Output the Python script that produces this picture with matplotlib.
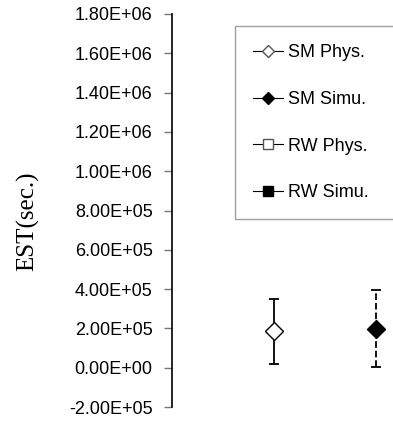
import matplotlib
matplotlib.use("Agg")
import matplotlib.pyplot as plt
from matplotlib.ticker import FuncFormatter

# series shown: one point per series with min/max bars
series = ["SM Phys.", "SM Simu.", "RW Phys.", "RW Simu."]
x_pos = [1, 2]
est_mean = [1.85e5, 1.98e5]
est_low = [1.8e4, 3e3]
est_high = [3.48e5, 3.93e5]

yticks = [-2e5, 0, 2e5, 4e5, 6e5, 8e5, 1e6, 1.2e6, 1.4e6, 1.6e6, 1.8e6]

plt.rcParams['font.family'] = ['Liberation Sans', 'DejaVu Sans']

fig = plt.figure(figsize=(3.93, 4.21), dpi=100)
ax = fig.add_axes([172 / 393, 14 / 421, 1 - 172 / 393, 1 - 28 / 421])

styles = [('D', 'white', '-'), ('D', 'black', '--')]
for i in range(2):
    m, fc, ls = styles[i]
    err = [[est_mean[i] - est_low[i]], [est_high[i] - est_mean[i]]]
    eb = ax.errorbar([x_pos[i]], [est_mean[i]], yerr=err, fmt=m, mfc=fc, mec='black',
                     ms=9, ecolor='black', elinewidth=1.3, capsize=3.5, capthick=1.3,
                     zorder=3)
    eb[2][0].set_linestyle(ls)

# legend handles
handles = []
for name, mk, fc in zip(series, ['D', 'D', 's', 's'], ['white', 'black', 'white', 'black']):
    h, = ax.plot([], [], color='black', lw=0.8, marker=mk, mfc=fc,
                 mec='black' if fc == 'black' else '#555555',
                 ms=6 if mk == 'D' else 7, label=name)
    handles.append(h)

leg = fig.legend(handles=handles, loc='upper left',
                 bbox_to_anchor=(235 / 393, 1 - 26 / 421, 180 / 393, 0), mode='expand',
                 frameon=True, fancybox=False, edgecolor='#888888', fontsize=13,
                 labelspacing=1.65, handlelength=1.65, handletextpad=0.3,
                 borderpad=1.0, borderaxespad=0, markerscale=1.0)
leg.get_frame().set_linewidth(1.0)

ax.set_ylim(-2e5, 1.8e6)
ax.set_xlim(0, (393 - 172) / 102)
ax.set_yticks(yticks)
ax.yaxis.set_major_formatter(FuncFormatter(lambda v, p: f"{v:.2E}"))
ax.tick_params(axis='y', direction='out', length=6, width=1, color='#777777', labelsize=13, pad=8)
ax.set_xticks([])
for s in ['top', 'right', 'bottom']:
    ax.spines[s].set_visible(False)
ax.spines['left'].set_linewidth(1.2)

ax.set_ylabel("EST(sec.)", family='Liberation Serif', fontsize=18)
ax.yaxis.set_label_coords((39 - 172) / 221, (407 - 221) / 393)

fig.savefig("out.png", dpi=100)
